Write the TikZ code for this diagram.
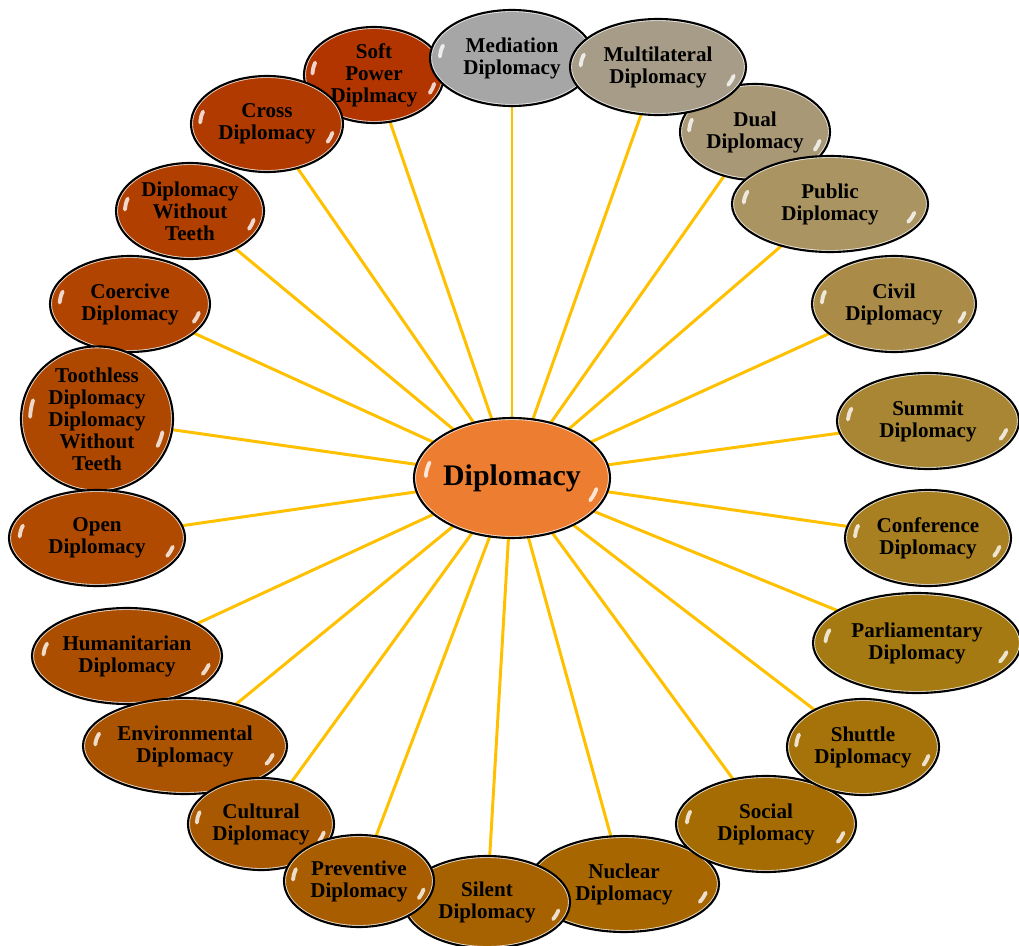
\documentclass[tikz,border=0pt]{standalone}
\usepackage{fontspec}
\setmainfont{Liberation Serif}
\usetikzlibrary{shapes.geometric, backgrounds, calc}
\definecolor{RayGold}{RGB}{255,192,0}
\definecolor{HubOrange}{RGB}{237,125,49}
\definecolor{cMed}{RGB}{166,166,166}
\definecolor{cMul}{RGB}{166,156,135}
\definecolor{cDua}{RGB}{168,152,118}
\definecolor{cPub}{RGB}{170,148,98}
\definecolor{cCiv}{RGB}{170,140,72}
\definecolor{cSum}{RGB}{168,134,52}
\definecolor{cCon}{RGB}{168,128,34}
\definecolor{cPar}{RGB}{166,122,18}
\definecolor{cShu}{RGB}{166,114,10}
\definecolor{cSoc}{RGB}{166,108,4}
\definecolor{cNuc}{RGB}{168,102,0}
\definecolor{cSil}{RGB}{166,98,0}
\definecolor{cPre}{RGB}{168,94,0}
\definecolor{cCul}{RGB}{168,88,0}
\definecolor{cEnv}{RGB}{170,83,0}
\definecolor{cHum}{RGB}{172,78,0}
\definecolor{cOpe}{RGB}{176,74,0}
\definecolor{cToo}{RGB}{174,72,0}
\definecolor{cCoe}{RGB}{176,68,0}
\definecolor{cWit}{RGB}{176,63,0}
\definecolor{cCro}{RGB}{176,58,0}
\definecolor{cSof}{RGB}{178,53,0}

\tikzset{
  bubble/.style={ellipse, draw=black, line width=1.2pt, fill=#1, inner sep=0pt,
    align=center, font=\fontsize{12}{12.5}\selectfont\bfseries,
    path picture={
      \path let \p1=(path picture bounding box.north east),
                \p2=(path picture bounding box.center) in
        [draw=#1!50!black, line width=7pt, opacity=.3]
          (\p2) ellipse [x radius=\x1-\x2, y radius=\y1-\y2]
        [draw=white, line width=2.2pt, opacity=.8, line cap=round]
          ($(\p2)+({0.88*(\x1-\x2)*cos(163)},{0.88*(\y1-\y2)*sin(163)})$)
          arc [start angle=163, end angle=178, x radius={0.88*(\x1-\x2)}, y radius={0.88*(\y1-\y2)}]
          ($(\p2)+({0.88*(\x1-\x2)*cos(-12)},{0.88*(\y1-\y2)*sin(-12)})$)
          arc [start angle=-12, end angle=-25, x radius={0.88*(\x1-\x2)}, y radius={0.88*(\y1-\y2)}];
    }},
  ray/.style={draw=RayGold, line width=1.7pt}
}

\begin{document}
\begin{tikzpicture}[x=0.02cm, y=-0.02cm]
  \useasboundingbox (0,0) rectangle (1019,946);

  \node[bubble=HubOrange, minimum width=3.92cm, minimum height=2.4cm,
        font=\fontsize{17}{19}\selectfont\bfseries] (hub) at (512,478) {Diplomacy};

  % outer ring, drawn in overlap order
  \foreach \n/\x/\y/\w/\h/\c/\t in {
      sof/374/75/140/96/cSof/{Soft\\Power\\Diplmacy},
      med/512/58/164/96/cMed/{Mediation\\Diplomacy},
      cro/267/124/152/96/cCro/{Cross\\Diplomacy},
      wit/190/211/148/96/cWit/{Diplomacy\\Without\\Teeth},
      coe/130/304/160/96/cCoe/{Coercive\\Diplomacy},
      too/97/419/152/130/cToo/{Toothless\\Diplomacy\\Diplomacy\\Without\\Teeth},
      ope/97/538/176/96/cOpe/{Open\\Diplomacy},
      hum/127/656/190/96/cHum/{Humanitarian\\Diplomacy},
      env/185/746/204/96/cEnv/{Environmental\\Diplomacy},
      cul/261/824/146/92/cCul/{Cultural\\Diplomacy},
      nuc/624/884/190/96/cNuc/{Nuclear\\Diplomacy},
      sil/487/902/166/92/cSil/{Silent\\Diplomacy},
      pre/359/881/150/92/cPre/{Preventive\\Diplomacy},
      soc/766/824/180/96/cSoc/{Social\\Diplomacy},
      shu/863/747/152/96/cShu/{Shuttle\\Diplomacy},
      par/917/643/208/100/cPar/{Parliamentary\\Diplomacy},
      con/928/538/166/96/cCon/{Conference\\Diplomacy},
      sum/928/421/182/96/cSum/{Summit\\Diplomacy},
      civ/894/304/164/96/cCiv/{Civil\\Diplomacy},
      dua/755/132/150/96/cDua/{Dual\\Diplomacy},
      mul/658/67/176/96/cMul/{Multilateral\\Diplomacy},
      pub/830/204/196/96/cPub/{Public\\Diplomacy}} {
    \node[bubble=\c, minimum width=\w*0.02cm, minimum height=\h*0.02cm] (\n) at (\x,\y) {\t};
  }

  \begin{scope}[on background layer]
    \foreach \n in {sof,med,mul,dua,pub,civ,sum,con,par,shu,soc,nuc,sil,pre,cul,env,hum,ope,too,coe,wit,cro}
      \draw[ray] (hub.center) -- (\n.center);
  \end{scope}
\end{tikzpicture}
\end{document}
